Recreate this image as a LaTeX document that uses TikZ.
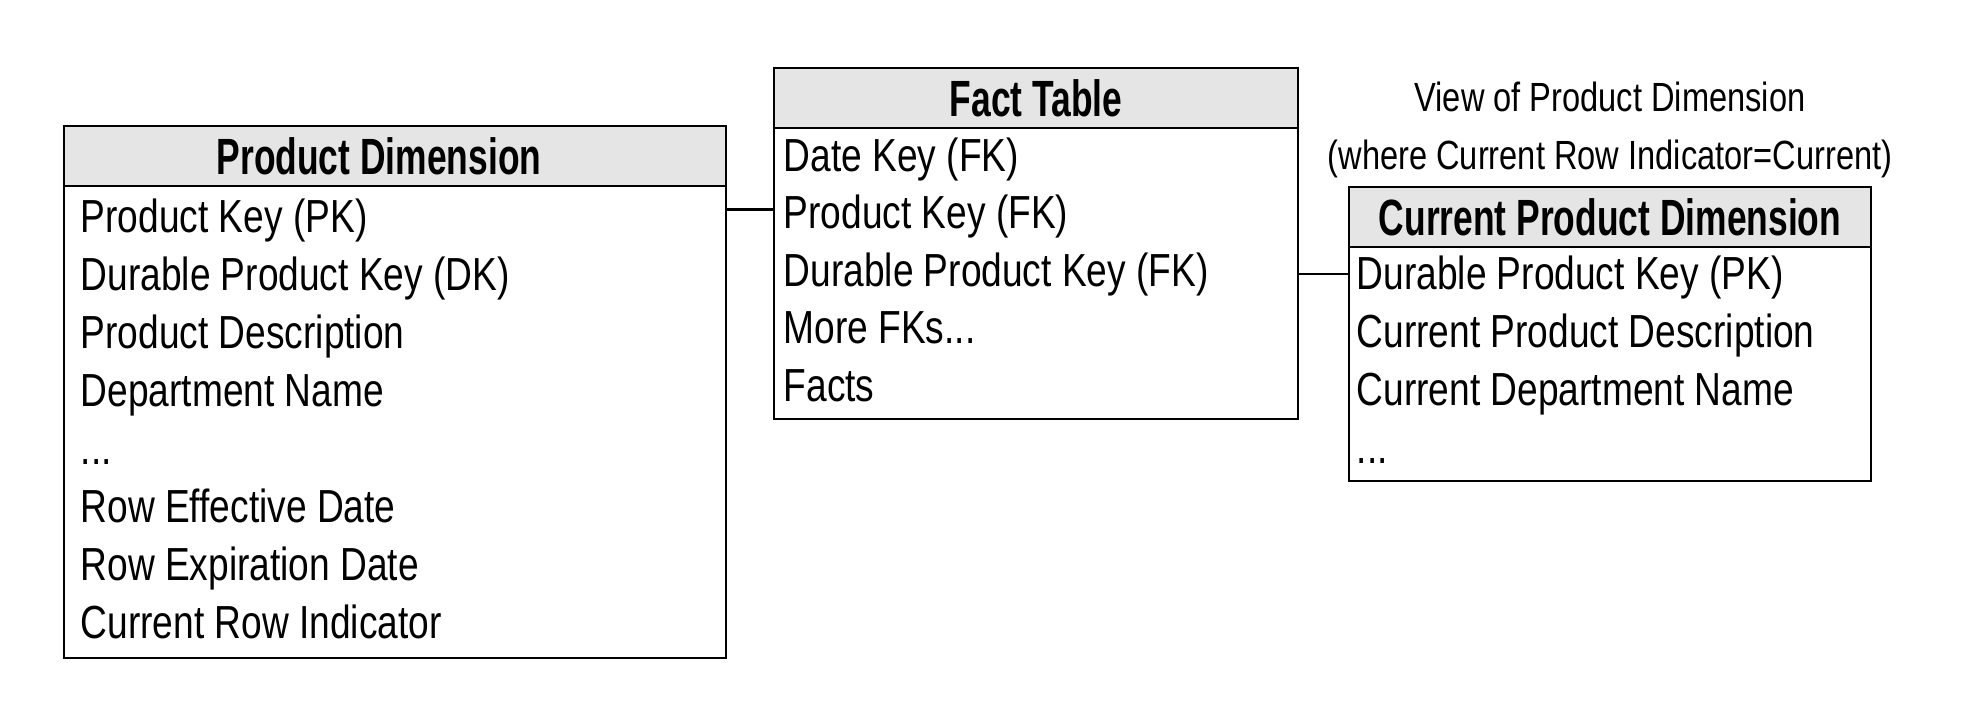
\documentclass[tikz,border=0pt]{standalone}
\usepackage{fontspec}
\setmainfont{Liberation Sans}[FakeStretch=0.8]
\newfontfamily\headfont{Liberation Sans}[FakeStretch=0.695]
\usepackage{tikz}
\usetikzlibrary{positioning, calc}
\usepackage{xcolor}
\definecolor{HeadGray}{RGB}{229, 229, 229}

\begin{document}
\begin{tikzpicture}[
  hdr/.style={draw, line width=0.8pt, fill=HeadGray, minimum height=0.6cm, inner sep=0pt, outer sep=0pt,
    font=\headfont\bfseries\fontsize{14.5}{16}\selectfont},
  tbody/.style={draw, line width=0.8pt, inner sep=0pt, outer sep=0pt},
  field/.style={anchor=base west, inner sep=0pt, font=\fontsize{13.2}{16}\selectfont},
  note/.style={align=center, inner sep=0pt, font=\fontsize{11.6}{16.5}\selectfont},
  link/.style={line width=0.8pt}]
\useasboundingbox (0, 0) rectangle (19.8, 7);

% Product Dimension
\node[hdr, minimum width=6.62cm, anchor=north west] (pdhead) at (0.64, 5.74) {\hspace*{-0.32cm}Product Dimension};
\node[tbody, minimum width=6.62cm, minimum height=4.72cm, anchor=north] (pdbody) at (pdhead.south) {};
\node[field] (pd1) at ($(pdbody.north west)+(0.16,-0.46)$) {Product Key (PK)};
\node[field, below=0.58cm of pd1.base west, anchor=base west] (pd2) {Durable Product Key (DK)};
\node[field, below=0.58cm of pd2.base west, anchor=base west] (pd3) {Product Description};
\node[field, below=0.58cm of pd3.base west, anchor=base west] (pd4) {Department Name};
\node[field, below=0.58cm of pd4.base west, anchor=base west] (pd5) {...};
\node[field, below=0.58cm of pd5.base west, anchor=base west] (pd6) {Row Effective Date};
\node[field, below=0.58cm of pd6.base west, anchor=base west] (pd7) {Row Expiration Date};
\node[field, below=0.58cm of pd7.base west, anchor=base west] (pd8) {Current Row Indicator};

% Fact Table
\node[hdr, minimum width=5.24cm, anchor=north west] (fthead) at (7.74, 6.32) {Fact Table};
\node[tbody, minimum width=5.24cm, minimum height=2.91cm, anchor=north] (ftbody) at (fthead.south) {};
\node[field] (fk1) at ($(ftbody.north west)+(0.09,-0.43)$) {Date Key (FK)};
\node[field, below=0.575cm of fk1.base west, anchor=base west] (fk2) {Product Key (FK)};
\node[field, below=0.575cm of fk2.base west, anchor=base west] (fk3) {Durable Product Key (FK)};
\node[field, below=0.575cm of fk3.base west, anchor=base west] (fk4) {More FKs...};
\node[field, below=0.575cm of fk4.base west, anchor=base west] (fk5) {Facts};

% Current Product Dimension (view)
\node[hdr, minimum width=5.22cm, anchor=north west] (cphead) at (13.49, 5.13) {Current Product Dimension};
\node[tbody, minimum width=5.22cm, minimum height=2.34cm, anchor=north] (cpbody) at (cphead.south) {};
\node[field] (cp1) at ($(cpbody.north west)+(0.07,-0.42)$) {Durable Product Key (PK)};
\node[field, below=0.58cm of cp1.base west, anchor=base west] (cp2) {Current Product Description};
\node[field, below=0.58cm of cp2.base west, anchor=base west] (cp3) {Current Department Name};
\node[field, below=0.58cm of cp3.base west, anchor=base west] (cp4) {...};
\node[note] (view) at (16.10, 5.70) {View of Product Dimension\\(where Current Row Indicator=Current)};

% joins
\draw[link] ([yshift=0.07cm]pdbody.east |- fk2) -- ([yshift=0.07cm]ftbody.west |- fk2);
\draw[link] (ftbody.east |- fk3) -- (cpbody.west |- fk3);
\end{tikzpicture}
\end{document}
